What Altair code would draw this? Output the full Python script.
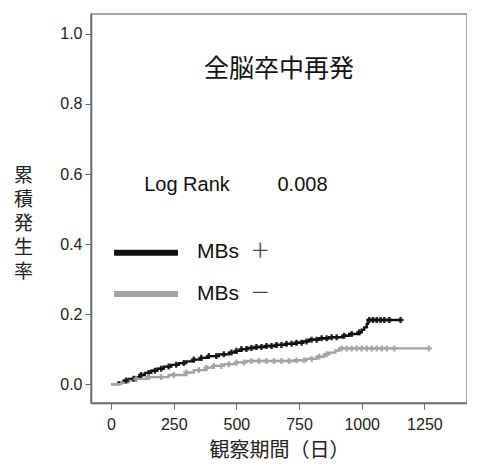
import altair as alt
import pandas as pd

FONT = "Liberation Sans, Arial, Noto Sans CJK JP"
CJK = "Noto Sans CJK JP"

# Kaplan-Meier step points (time in days, cumulative incidence)
pos_t = [0, 30, 50, 70, 95, 115, 135, 160, 185, 210, 240, 270, 300, 330, 360, 390, 430, 470, 500, 520,
         545, 580, 620, 660, 700, 740, 765, 790, 830, 870, 925, 950, 990, 1000, 1010, 1020, 1025, 1155]
pos_v = [0, 0.005, 0.01, 0.015, 0.02, 0.026, 0.032, 0.038, 0.044, 0.05, 0.055, 0.06, 0.065, 0.07, 0.075,
         0.08, 0.085, 0.09, 0.095, 0.1, 0.103, 0.106, 0.109, 0.112, 0.115, 0.118, 0.122, 0.127, 0.131,
         0.134, 0.138, 0.143, 0.148, 0.155, 0.162, 0.172, 0.183, 0.183]
neg_t = [0, 40, 70, 100, 140, 230, 300, 330, 380, 410, 450, 500, 540, 730, 780, 820, 850, 870, 895, 910, 1268]
neg_v = [0, 0.005, 0.01, 0.015, 0.02, 0.026, 0.033, 0.04, 0.047, 0.052, 0.057, 0.062, 0.066, 0.068,
         0.072, 0.078, 0.085, 0.09, 0.096, 0.102, 0.102]

# censoring times
pos_c = [60, 90, 120, 150, 175, 200, 230, 260, 290, 330, 360, 390, 420, 450, 480, 500, 520, 540, 560, 580,
         600, 620, 640, 660, 680, 700, 720, 740, 760, 780, 800, 820, 840, 860, 880, 900, 930, 960, 990,
         1030, 1045, 1060, 1075, 1090, 1110, 1155]
neg_c = [100, 150, 200, 250, 300, 350, 380, 410, 440, 470, 500, 530, 560, 590, 620, 650, 680, 710, 740,
         770, 800, 830, 860, 920, 940, 960, 980, 1000, 1020, 1040, 1060, 1080, 1100, 1130, 1268]

groups = ["MBs＋", "MBs－"]
colors = ["#111111", "#a3a3a3"]

x_ticks = [0, 250, 500, 750, 1000, 1250]
y_ticks = [0.0, 0.2, 0.4, 0.6, 0.8, 1.0]
y_title_chars = ["累", "積", "発", "生", "率"]


def step_val(ts, vs, t):
    v = vs[0]
    for tt, vv in zip(ts, vs):
        if tt <= t:
            v = vv
    return v


curve = pd.concat([
    pd.DataFrame({"t": pos_t, "v": pos_v, "g": groups[0]}),
    pd.DataFrame({"t": neg_t, "v": neg_v, "g": groups[1]}),
])
cens = pd.concat([
    pd.DataFrame({"t": pos_c, "v": [step_val(pos_t, pos_v, c) for c in pos_c], "g": groups[0]}),
    pd.DataFrame({"t": neg_c, "v": [step_val(neg_t, neg_v, c) for c in neg_c], "g": groups[1]}),
])

xs = alt.Scale(domain=[-80, 1420], nice=False, zero=False)
ys = alt.Scale(domain=[-0.054, 1.057], nice=False, zero=False)
col = alt.Scale(domain=groups, range=colors)

X = alt.X("t:Q", scale=xs, axis=alt.Axis(values=x_ticks, format="d", title="観察期間（日）",
          titleFont=CJK, titleFontSize=20, titleFontWeight="normal", titleColor="#222",
          titlePadding=8, labelFont=FONT, labelFontSize=16, labelColor="#222", labelPadding=7,
          tickSize=6, tickColor="#666", domainColor="#666", domainWidth=1.5, grid=False))
Y = alt.Y("v:Q", scale=ys, axis=alt.Axis(values=y_ticks, format=".1f",
          title=y_title_chars, titleAngle=0, titleAlign="center", titleBaseline="top",
          titleX=-68, titleY=152, titleFont=CJK, titleFontSize=19, titleFontWeight="normal",
          titleColor="#222", titleLineHeight=24,
          labelFont=FONT, labelFontSize=16, labelColor="#222", labelPadding=3,
          tickSize=6, tickColor="#666", domainColor="#666", domainWidth=1.5, grid=False))

lines = alt.Chart(curve).mark_line(interpolate="step-after", strokeWidth=2.4).encode(
    x=X, y=Y, color=alt.Color("g:N", scale=col, legend=None), detail="g:N")
marks = alt.Chart(cens).mark_point(shape="cross", size=36, filled=True, opacity=0.9).encode(
    x="t:Q", y="v:Q", color=alt.Color("g:N", scale=col, legend=None))

# annotations
title_df = pd.DataFrame({"t": [670], "v": [0.9], "s": ["全脳卒中再発"]})
title = alt.Chart(title_df).mark_text(font=CJK, fontSize=25, align="center", baseline="middle",
                                      color="#111").encode(x="t:Q", y="v:Q", text="s:N")
lr_df = pd.DataFrame({"t": [132, 664], "v": [0.569, 0.569], "s": ["Log Rank", "0.008"]})
lr = alt.Chart(lr_df).mark_text(font=FONT, fontSize=20, align="left", baseline="middle",
                                color="#111").encode(x="t:Q", y="v:Q", text="s:N")
leg_line = pd.DataFrame({"t": [12, 12], "t2": [267, 267], "v": [0.375, 0.257], "g": groups})
legl = alt.Chart(leg_line).mark_rule(strokeWidth=6).encode(
    x="t:Q", x2="t2:Q", y="v:Q", color=alt.Color("g:N", scale=col, legend=None))
leg_txt = pd.DataFrame({"t": [343, 343], "v": [0.377, 0.257], "s": ["MBs", "MBs"]})
legt = alt.Chart(leg_txt).mark_text(font=FONT, fontSize=21, align="left", baseline="middle",
                                    color="#111").encode(x="t:Q", y="v:Q", text="s:N")
leg_sym = pd.DataFrame({"t": [555, 555], "v": [0.377, 0.257], "s": ["＋", "－"]})
legs = alt.Chart(leg_sym).mark_text(font=CJK, fontSize=20, fontWeight="normal", align="left",
                                    baseline="middle", color="#444").encode(x="t:Q", y="v:Q", text="s:N")

chart = alt.layer(lines, marks, title, lr, legl, legt, legs).properties(
    width=376, height=389, padding={"left": 5, "top": 6, "right": 0, "bottom": 4}
).configure_view(stroke="#888", strokeWidth=1.5)

chart.save("out.html", embed_options={"renderer": "svg", "actions": False})
